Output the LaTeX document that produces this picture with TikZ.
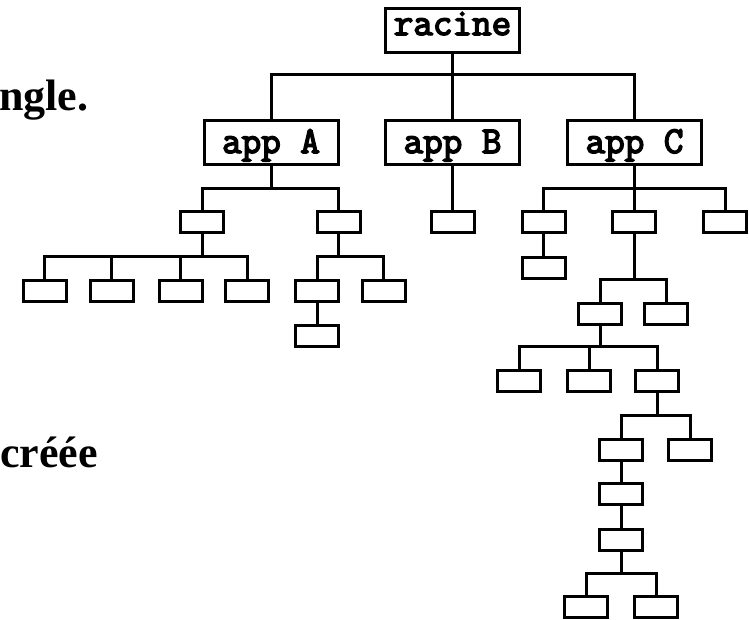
\documentclass[tikz,border=0pt]{standalone}
\usepackage{fontspec}
\setmainfont{Liberation Serif}
\newfontfamily\boxfont{Latin Modern Mono}[FakeBold=4]

% orthogonal bus: parent, y of the bar, list of children
\newcommand\treebus[3]{%
  \foreach \c in {#3}{\draw[wire] (#1.south) -- (#1.south |- 0,#2) -| (\c.north);}}

\tikzset{
  wire/.style={line width=3pt},
  bigbox/.style={draw, line width=3pt, minimum width=134pt, minimum height=44pt,
    inner sep=0pt, text depth=0pt,
    font={\boxfont\fontsize{38}{38}\selectfont}},
  leaf/.style={draw, line width=3pt, minimum width=43pt, minimum height=21pt, inner sep=0pt},
  side/.style={inner sep=0pt, anchor=base west, font={\bfseries\fontsize{44}{50}\selectfont}},
}

\begin{document}
\begin{tikzpicture}[x=1pt, y=-1pt]
\useasboundingbox (0,0) rectangle (749,619);

% side text
\node[side] (t1) at (-1,110) {ngle.};
\node[side] (t2) at (0,467) {créée};

% root and applications
\node[bigbox, text height=10pt] (root) at (452.5,30) {racine};
\node[bigbox, text height=21pt] (appA) at (271,142.5) {app A};
\node[bigbox, text height=21pt] (appB) at (452.5,142.5) {app B};
\node[bigbox, text height=21pt] (appC) at (634.5,142.5) {app C};

% second level
\node[leaf] (a1) at (202,222) {};
\node[leaf] (a2) at (338.5,222) {};
\node[leaf] (b1) at (452.5,222) {};
\node[leaf] (c1) at (543.5,222) {};
\node[leaf] (c2) at (634,222) {};
\node[leaf] (c3) at (725,222) {};

% under app A
\node[leaf] (a11) at (44.5,290.5) {};
\node[leaf] (a12) at (111.5,290.5) {};
\node[leaf] (a13) at (180.5,290.5) {};
\node[leaf] (a14) at (247,290.5) {};
\node[leaf] (a21) at (317,290.5) {};
\node[leaf] (a22) at (383.5,290.5) {};
\node[leaf] (a211) at (317,335.5) {};

% under app C
\node[leaf] (c11) at (543.5,267.5) {};
\node[leaf] (c21) at (600,313.5) {};
\node[leaf] (c22) at (666,313.5) {};
\node[leaf] (c211) at (519,381) {};
\node[leaf] (c212) at (589,381) {};
\node[leaf] (c213) at (657,381) {};
\node[leaf] (d1) at (621,449.5) {};
\node[leaf] (d2) at (690,449.5) {};
\node[leaf] (e1) at (621,494) {};
\node[leaf] (e2) at (621,539.5) {};
\node[leaf] (f1) at (586,607) {};
\node[leaf] (f2) at (656,607) {};

% connectors
\treebus{root}{74}{appA,appB,appC}
\treebus{appA}{188}{a1,a2}
\draw[wire] (appB.south) -- (b1.north);
\treebus{appC}{188}{c1,c2,c3}
\treebus{a1}{256}{a11,a12,a13,a14}
\treebus{a2}{256}{a21,a22}
\draw[wire] (a21.south) -- (a211.north);
\draw[wire] (c1.south) -- (c11.north);
\treebus{c2}{279}{c21,c22}
\treebus{c21}{346}{c211,c212,c213}
\treebus{c213}{415}{d1,d2}
\draw[wire] (d1.south) -- (e1.north);
\draw[wire] (e1.south) -- (e2.north);
\treebus{e2}{573}{f1,f2}
\end{tikzpicture}
\end{document}
